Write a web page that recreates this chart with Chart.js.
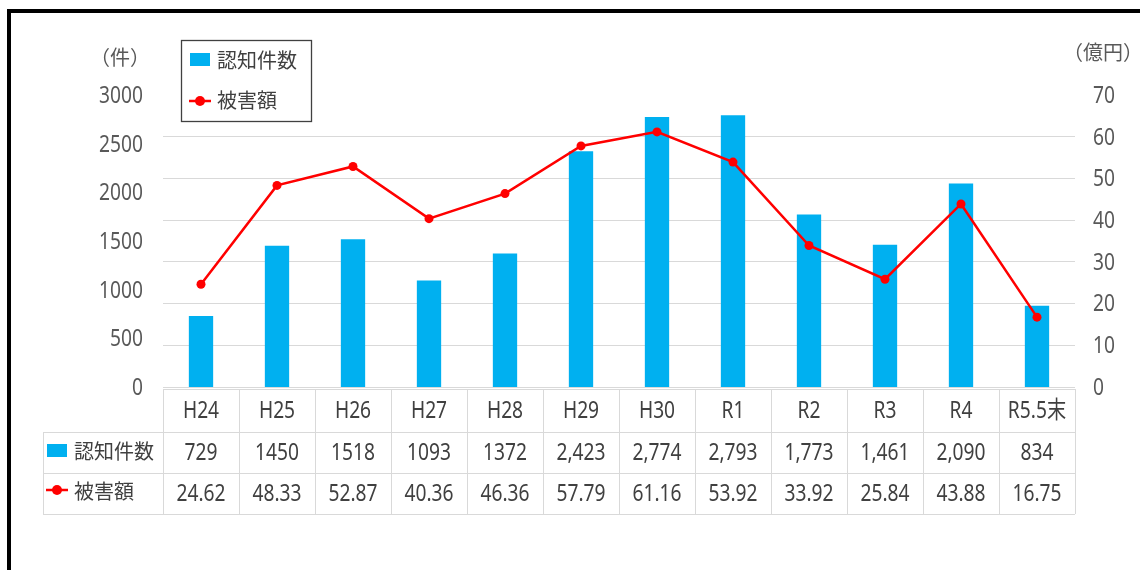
<!DOCTYPE html>
<html>
<head>
<meta charset="utf-8">
<script src="https://cdn.jsdelivr.net/npm/chart.js@4"></script>
<style>
  html, body { margin: 0; padding: 0; background: #fff; }
  #frame { position: absolute; left: 7px; top: 9px; width: 1200px; height: 700px;
           border-left: 4px solid #000; border-top: 4px solid #000; }
  #c { position: absolute; left: 0; top: 0; }
</style>
</head>
<body>
<div id="frame"></div>
<canvas id="c" width="1140" height="570"></canvas>
<script>
// ---- data ----
const categories = ['H24','H25','H26','H27','H28','H29','H30','R1','R2','R3','R4','R5.5末'];
const caseCounts = [729,1450,1518,1093,1372,2423,2774,2793,1773,1461,2090,834];
const caseLabels = ['729','1450','1518','1093','1372','2,423','2,774','2,793','1,773','1,461','2,090','834'];
const damageAmounts = [24.62,48.33,52.87,40.36,46.36,57.79,61.16,53.92,33.92,25.84,43.88,16.75];
const seriesNames = ['認知件数','被害額'];
const leftTicks = { min: 0, max: 3000, step: 500 };
const rightTicks = { min: 0, max: 70, step: 10 };
const leftUnit = '（件）';
const rightUnit = '（億円）';

const BLUE = '#00B0F0';
const RED = '#FF0000';
const NUM_FONT = "'Noto Sans', 'Noto Sans CJK JP', sans-serif";
const CJK_FONT = "'Noto Sans CJK JP', sans-serif";
const TEXT = '#404040';
const TICK = '#595959';
const GRID = '#d9d9d9';
const SQUEEZE = 0.8;

function narrowText(ctx, text, x, y, align) {
  ctx.save();
  ctx.translate(x, y);
  ctx.scale(SQUEEZE, 1);
  ctx.textAlign = align;
  ctx.fillText(text, 0, 0);
  ctx.restore();
}

function drawMarker(ctx, type, x, y) {
  if (type === 'bar') {
    ctx.fillStyle = BLUE;
    ctx.fillRect(x - 10, y - 7, 20, 13);
  } else {
    ctx.strokeStyle = RED; ctx.lineWidth = 2.5;
    ctx.beginPath(); ctx.moveTo(x - 11, y); ctx.lineTo(x + 11, y); ctx.stroke();
    ctx.fillStyle = RED;
    ctx.beginPath(); ctx.arc(x, y, 5, 0, Math.PI * 2); ctx.fill();
  }
}

const extras = {
  id: 'extras',
  afterDraw(chart) {
    const ctx = chart.ctx;
    const xs = chart.scales.x;
    const yl = chart.scales.y;
    const yr = chart.scales.y1;
    const area = chart.chartArea;
    const n = categories.length;
    const colW = (area.right - area.left) / n;
    ctx.save();

    // axis tick labels (narrow digits)
    ctx.fillStyle = TICK;
    ctx.font = '24px ' + NUM_FONT;
    ctx.textBaseline = 'middle';
    yl.ticks.forEach(t => narrowText(ctx, String(t.value), area.left - 20, yl.getPixelForValue(t.value) + 1, 'right'));
    yr.ticks.forEach(t => narrowText(ctx, String(t.value), area.right + 18, yr.getPixelForValue(t.value) + 1, 'left'));

    // unit labels
    ctx.fillStyle = TICK;
    ctx.font = '20px ' + CJK_FONT;
    ctx.textAlign = 'center';
    ctx.fillText(leftUnit, 120, 57);
    ctx.fillText(rightUnit, 1103, 52);

    // legend
    ctx.fillStyle = '#fff';
    ctx.fillRect(181, 40, 131, 82);
    ctx.strokeStyle = '#404040'; ctx.lineWidth = 1.3;
    ctx.strokeRect(181.5, 40.5, 130, 81);
    drawMarker(ctx, 'bar', 200, 60);
    drawMarker(ctx, 'line', 200, 101);
    ctx.fillStyle = TEXT; ctx.font = '20px ' + CJK_FONT;
    ctx.textAlign = 'left';
    ctx.fillText(seriesNames[0], 217, 60);
    ctx.fillText(seriesNames[1], 217, 100);

    // data table
    const top = area.bottom + 2;
    const rows = [top, 432, 473, 514];
    const tableLeft = 43;
    ctx.strokeStyle = GRID; ctx.lineWidth = 1;
    ctx.beginPath();
    ctx.moveTo(area.left, rows[0] + 0.5); ctx.lineTo(area.right, rows[0] + 0.5);
    for (let r = 1; r < rows.length; r++) {
      ctx.moveTo(tableLeft, rows[r] + 0.5); ctx.lineTo(area.right, rows[r] + 0.5);
    }
    ctx.moveTo(tableLeft + 0.5, rows[1]); ctx.lineTo(tableLeft + 0.5, rows[3]);
    for (let i = 0; i <= n; i++) {
      const x = Math.round(area.left + i * colW) + 0.5;
      ctx.moveTo(x, rows[0]); ctx.lineTo(x, rows[3]);
    }
    ctx.stroke();

    ctx.fillStyle = TEXT;
    ctx.textBaseline = 'middle';
    ctx.font = '24px ' + NUM_FONT;
    for (let i = 0; i < n; i++) {
      const cx = xs.getPixelForValue(i);
      narrowText(ctx, categories[i], cx, (rows[0] + rows[1]) / 2 + 1, 'center');
      narrowText(ctx, caseLabels[i], cx, (rows[1] + rows[2]) / 2 + 1, 'center');
      narrowText(ctx, damageAmounts[i].toFixed(2), cx, (rows[2] + rows[3]) / 2 + 1, 'center');
    }
    // row headers
    drawMarker(ctx, 'bar', 57, 451);
    drawMarker(ctx, 'line', 57, 490);
    ctx.fillStyle = TEXT; ctx.font = '20px ' + CJK_FONT; ctx.textAlign = 'left';
    ctx.fillText(seriesNames[0], 74, 451);
    ctx.fillText(seriesNames[1], 74, 491);
    ctx.restore();
  }
};

new Chart(document.getElementById('c'), {
  data: {
    labels: categories,
    datasets: [
      { type: 'line', label: seriesNames[1], data: damageAmounts, yAxisID: 'y1', order: 0,
        borderColor: RED, backgroundColor: RED, borderWidth: 2.5,
        pointRadius: 4.5, pointBackgroundColor: RED, pointBorderColor: RED, pointBorderWidth: 0,
        tension: 0 },
      { type: 'bar', label: seriesNames[0], data: caseCounts, yAxisID: 'y', order: 1,
        backgroundColor: BLUE, borderWidth: 0,
        categoryPercentage: 1, barPercentage: 0.32 }
    ]
  },
  options: {
    responsive: false,
    animation: false,
    devicePixelRatio: 1,
    layout: { padding: { top: 95, bottom: 183, left: 0, right: 0 } },
    plugins: { legend: { display: false }, tooltip: { enabled: false } },
    scales: {
      x: { display: false, offset: true },
      y: {
        position: 'left', min: leftTicks.min, max: leftTicks.max,
        grid: { display: false, drawTicks: false },
        border: { display: false },
        ticks: { stepSize: leftTicks.step, display: false },
        afterFit(s) { s.width = 163; }
      },
      y1: {
        position: 'right', min: rightTicks.min, max: rightTicks.max,
        grid: { color: c => (c.tick && c.tick.value === rightTicks.max) ? 'rgba(0,0,0,0)' : GRID,
                lineWidth: 1, drawTicks: false, drawOnChartArea: true },
        border: { display: false },
        ticks: { stepSize: rightTicks.step, display: false },
        afterFit(s) { s.width = 65; }
      }
    }
  },
  plugins: [extras]
});
</script>
</body>
</html>
